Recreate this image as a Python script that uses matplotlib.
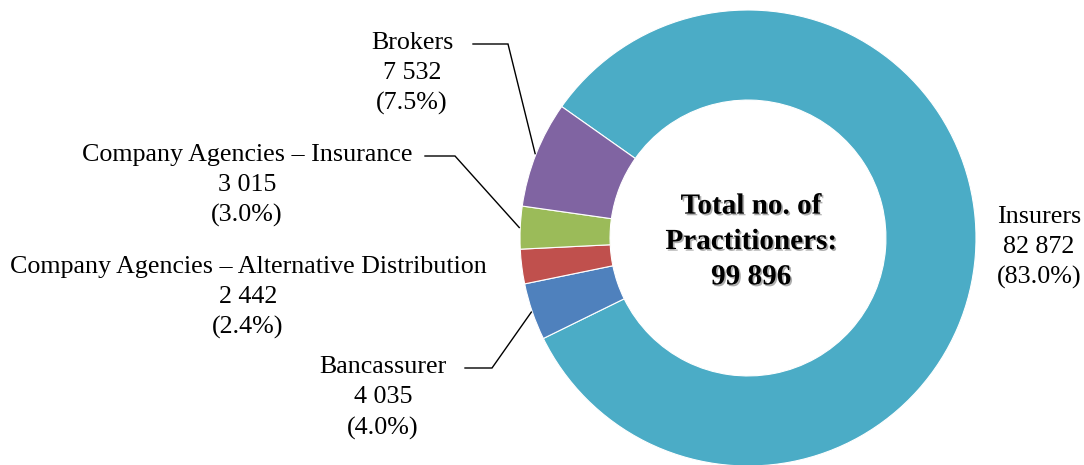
import numpy as np
import matplotlib
matplotlib.use("Agg")
import matplotlib.pyplot as plt
import matplotlib.patheffects as pe

categories = ["Insurers", "Bancassurer", "Company Agencies \u2013 Alternative Distribution",
              "Company Agencies \u2013 Insurance", "Brokers"]
values = [82872, 4035, 2442, 3015, 7532]
colors = ["#4BACC6", "#4F81BD", "#C0504D", "#9BBB59", "#8064A2"]
total_label = "Total no. of\nPractitioners:\n99 896"

W, H = 1084, 465
fig = plt.figure(figsize=(W / 100, H / 100), dpi=100)
ax = fig.add_axes([0, 0, 1, 1])

cx, cy, R = 748, H - 238, 228
wedges, _ = ax.pie(values, colors=colors, startangle=144.8, counterclock=False,
                   center=(cx, cy), radius=R, frame=True,
                   wedgeprops=dict(width=R * 0.395, edgecolor="white", linewidth=0.8))
ax.set_xlim(0, W)
ax.set_ylim(0, H)
ax.set_aspect("equal")
ax.axis("off")

total = sum(values)
font = dict(family="Liberation Serif", fontsize=18.7, color="black", linespacing=1.47)

def label_text(i):
    return f"{categories[i]}\n{values[i]:,}".replace(",", " ") + f"\n({values[i] / total * 100:.1f}%)"

# label positions (pixel layout: x, y from top)
label_pos = {0: (1039, 247.5), 1: (383, 398), 2: (248, 297.5), 3: (247, 185.5), 4: (412, 73.5)}
for i, (x, y) in label_pos.items():
    ax.text(x, H - y, label_text(i), ha="center", va="center", **font)

# leader lines: horizontal stub then to wedge mid-angle at outer radius
leaders = {4: ((473, 44), (508, 44)), 3: ((425, 156), (455, 156)), 1: ((465, 368), (492, 368))}
for i, (p0, p1) in leaders.items():
    w = wedges[i]
    mid = np.deg2rad((w.theta1 + w.theta2) / 2)
    ex, ey = cx + (R + 1) * np.cos(mid), cy + (R + 1) * np.sin(mid)
    ax.plot([p0[0], p1[0], ex], [H - p0[1], H - p1[1], ey], color="black", lw=1.0,
            solid_joinstyle="miter")

ax.text(751, H - 241.5, total_label, ha="center", va="center", family="Liberation Serif",
        fontsize=21, fontweight="bold", linespacing=1.4,
        path_effects=[pe.withSimplePatchShadow(offset=(1.2, -1.2), shadow_rgbFace="#777777", alpha=0.6)])

fig.savefig("out.png", dpi=100)
